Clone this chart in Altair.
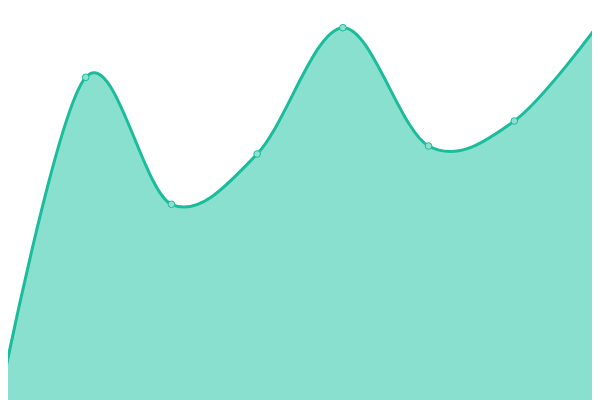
import altair as alt
import pandas as pd

idx = [0, 1, 2, 3, 4, 5, 6, 7]
values = [3, 322.7, 195.7, 246, 372.3, 254, 279, 377.7]

df = pd.DataFrame({"i": idx, "v": values})

x = alt.X("i:Q", axis=None, scale=alt.Scale(domain=[0, 7], nice=False, zero=False))
y = alt.Y("v:Q", axis=None, scale=alt.Scale(domain=[0, 400], nice=False, zero=True))

base = alt.Chart(df)
area = base.mark_area(interpolate="cardinal", color="#8ae0cf", opacity=1).encode(x=x, y=y)
line = base.mark_line(interpolate="cardinal", color="#1abc9c", strokeWidth=3).encode(x=x, y=y)
pts = base.mark_point(filled=True, fill="#8ee0cf", stroke="#1abc9c", strokeWidth=1, size=44, opacity=1).encode(x=x, y=y)

chart = (area + line + pts).properties(
    width=600, height=400,
    padding={"left": -8, "top": -8, "right": -8, "bottom": 0},
    autosize=alt.AutoSizeParams(type="none"),
).configure_view(strokeWidth=0).configure(background="white")

chart.save("out.html", embed_options={"renderer": "svg", "actions": False})
